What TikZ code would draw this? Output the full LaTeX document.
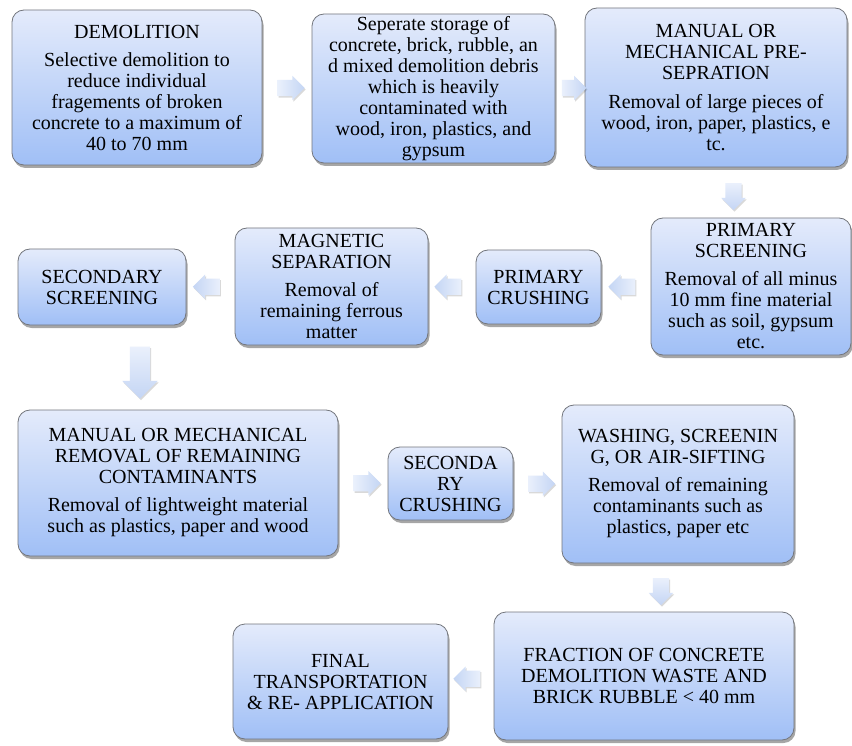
\documentclass[tikz,border=0pt]{standalone}
\usepackage{fontspec}
\setmainfont{Liberation Serif}
\newfontfamily\boxfont{Liberation Serif}
\usetikzlibrary{shapes.arrows,shadows,calc}
\definecolor{boxtop}{RGB}{228,235,251}
\definecolor{boxbot}{RGB}{160,191,246}
\definecolor{boxline}{RGB}{115,118,125}
\definecolor{arrlight}{RGB}{234,240,252}
\definecolor{arrdark}{RGB}{196,213,244}
\begin{document}
\begin{tikzpicture}[x=1pt,y=-1pt,
 stepbox/.style={rectangle, rounded corners=12pt, draw=boxline, line width=0.8pt,
   top color=boxtop, bottom color=boxbot, align=center, inner sep=2pt,
   font=\boxfont\fontsize{20}{21}\selectfont,
   drop shadow={shadow xshift=1.5pt, shadow yshift=-3pt, opacity=0.35, fill=black}},
 flow/.style={single arrow, draw=none, inner sep=8pt, minimum width=0pt,
   single arrow head extend=4pt, minimum height=27pt,
   drop shadow={shadow xshift=1pt, shadow yshift=-1.5pt, opacity=0.15, fill=black}},
 rarrow/.style={flow, shape border rotate=0, left color=arrlight, right color=arrdark},
 larrow/.style={flow, shape border rotate=180, left color=arrdark, right color=arrlight},
 darrow/.style={flow, shape border rotate=270, top color=arrlight, bottom color=arrdark},
]
\useasboundingbox[fill=white] (0,0) rectangle (852,746);

\node[stepbox, minimum width=250pt, minimum height=155pt] (b1) at (137,87.5)
  {DEMOLITION\\[7pt]Selective demolition to\\reduce individual\\fragements of broken\\concrete to a maximum of\\40 to 70 mm};
\node[stepbox, minimum width=243pt, minimum height=149pt] (b2) at (433.5,88.5)
  {Seperate storage of\\concrete, brick, rubble, an\\d mixed demolition debris\\which is heavily\\contaminated with\\wood, iron, plastics, and\\gypsum};
\node[stepbox, minimum width=262pt, minimum height=159pt] (b3) at (716,87.5)
  {MANUAL OR\\MECHANICAL PRE-\\SEPRATION\\[8pt]Removal of large pieces of\\wood, iron, paper, plastics, e\\tc.};
\node[stepbox, minimum width=200pt, minimum height=137pt] (b4) at (751,286.5)
  {PRIMARY\\SCREENING\\[7pt]Removal of all minus\\10 mm fine material\\such as soil, gypsum\\etc.};
\node[stepbox, minimum width=125pt, minimum height=74pt] (b5) at (538.5,287)
  {PRIMARY\\CRUSHING};
\node[stepbox, minimum width=193pt, minimum height=117pt] (b6) at (331.5,286.5)
  {MAGNETIC\\SEPARATION\\[7pt]Removal of\\remaining ferrous\\matter};
\node[stepbox, minimum width=168pt, minimum height=76pt] (b7) at (102,287)
  {SECONDARY\\SCREENING};
\node[stepbox, minimum width=320pt, minimum height=146pt] (b8) at (178,483)
  {MANUAL OR MECHANICAL\\REMOVAL OF REMAINING\\CONTAMINANTS\\[7pt]Removal of lightweight material\\such as plastics, paper and wood};
\node[stepbox, minimum width=125pt, minimum height=73pt] (b9) at (450.5,483.5)
  {SECONDA\\RY\\CRUSHING};
\node[stepbox, minimum width=232pt, minimum height=158pt] (b10) at (678,484)
  {WASHING, SCREENIN\\G, OR AIR-SIFTING\\[7pt]Removal of remaining\\contaminants such as\\plastics, paper etc};
\node[stepbox, minimum width=300pt, minimum height=128pt] (b11) at (644,676)
  {FRACTION OF CONCRETE\\DEMOLITION WASTE AND\\BRICK RUBBLE < 40 mm};
\node[stepbox, minimum width=215pt, minimum height=115pt] (b12) at (340.5,681.5)
  {FINAL\\TRANSPORTATION\\\& RE- APPLICATION};

\node[rarrow] (a1) at ($(b1.east)!0.5!(b2.west)$) {};
\node[rarrow, minimum height=17pt] (a2) at ($(b2.east)!0.5!(b3.west)$) {};
\node[darrow] (a3) at ($(b3.south)!0.5!(b4.north)$) {};
\node[larrow] (a4) at ($(b4.west)!0.5!(b5.east)$) {};
\node[larrow] (a5) at ($(b5.west)!0.5!(b6.east)$) {};
\node[larrow] (a6) at ($(b6.west)!0.5!(b7.east)$) {};
\node[darrow, minimum height=52pt, inner sep=10pt, single arrow head extend=7.5pt] (a7) at ($(b7.south)!0.5!(b8.north)$) {};
\node[rarrow] (a8) at ($(b8.east)!0.5!(b9.west)$) {};
\node[rarrow] (a9) at ($(b9.east)!0.5!(b10.west)$) {};
\node[darrow] (a10) at ($(b10.south)!0.5!(b11.north)$) {};
\node[larrow] (a11) at ($(b11.west)!0.5!(b12.east)$) {};
\end{tikzpicture}
\end{document}
